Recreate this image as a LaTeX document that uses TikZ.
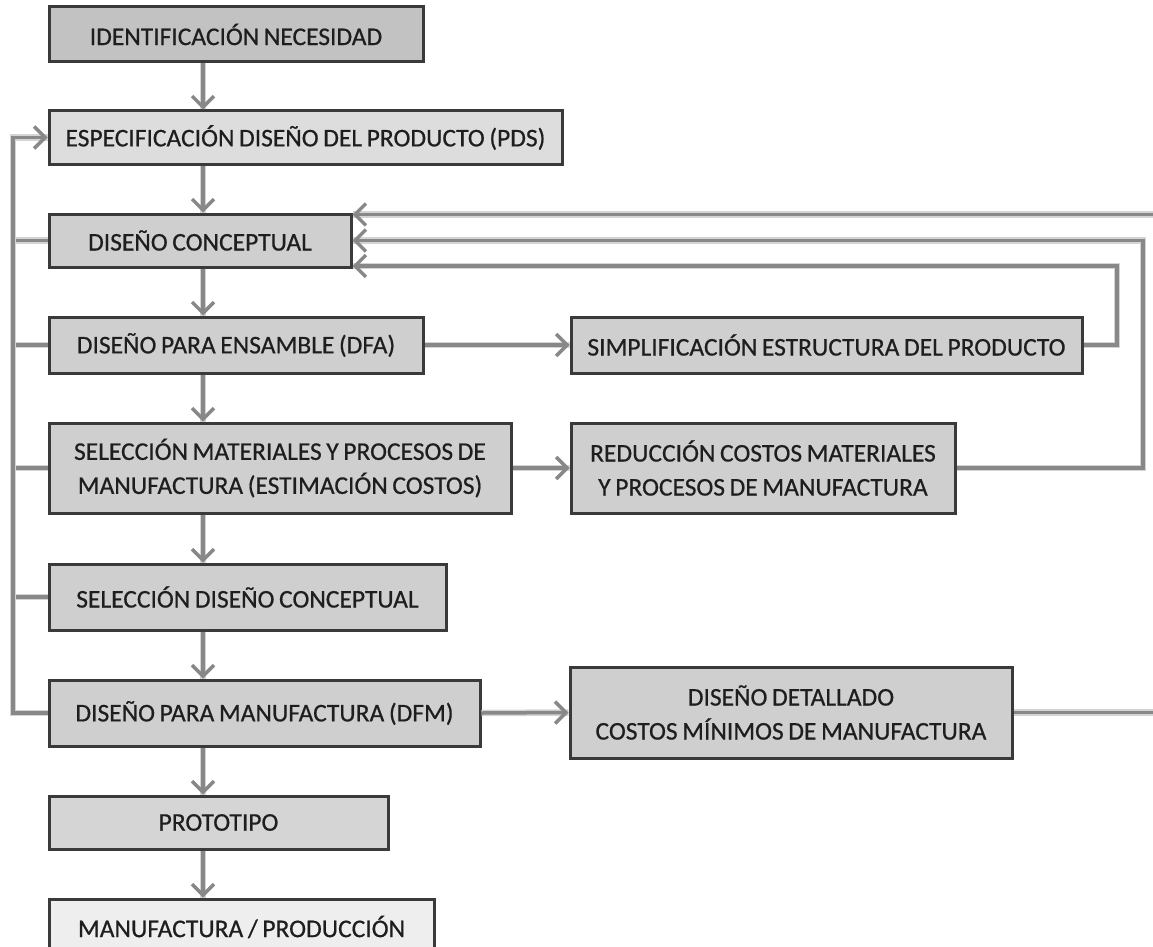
\documentclass[tikz,border=0pt]{standalone}
\usepackage{fontspec}
\setmainfont{Carlito}[FakeBold=0.6,WordSpace=0.8]
\usetikzlibrary{arrows.meta}
\definecolor{edgec}{HTML}{3A3A3A}
\definecolor{txtc}{HTML}{1E1E1E}
\definecolor{arrc}{HTML}{888888}
\definecolor{shadc}{HTML}{D4D4D4}
\definecolor{fdark}{HTML}{C2C2C2}
\definecolor{fmid}{HTML}{CFCFCF}
\definecolor{flight}{HTML}{DDDDDD}
\definecolor{fproto}{HTML}{D5D5D5}
\definecolor{fpale}{HTML}{EEEEEE}
\begin{document}
\begin{tikzpicture}[x=1pt,y=-1pt,
  box/.style={draw=edgec, line width=3pt, inner sep=0pt, text=txtc, align=center,
    font=\fontsize{25.5}{34}\selectfont},
  shad/.style={preaction={draw=shadc, line width=6.5pt, line join=miter, arrows=-}},
  conn/.style={shad, draw=arrc, line width=3.5pt, line join=miter, -{Straight Barb[length=11pt,width=22pt,line width=3.5pt]}},
  link/.style={shad, draw=arrc, line width=3.5pt, line join=miter}
]
\clip (0,0) rectangle (1153,947);
\useasboundingbox (0,0) rectangle (1153,947);
\fill[white] (0,0) rectangle (1153,947);

\coordinate (ax) at (203,0);
\coordinate (l)  at (13,0);
\coordinate (r1) at (1117,0);
\coordinate (r2) at (1143,0);
\coordinate (r3) at (1175,0);

\node[box, fill=fdark,  minimum width=374pt, minimum height=55pt] (n1)  at (236,34.5)  {IDENTIFICACIÓN NECESIDAD};
\node[box, fill=flight, minimum width=513pt, minimum height=53pt] (n2)  at (305.5,137.5) {ESPECIFICACIÓN DISEÑO DEL PRODUCTO (PDS)};
\node[box, fill=fmid,   minimum width=302pt, minimum height=53pt] (n3)  at (200,240.5) {DISEÑO CONCEPTUAL};
\node[box, fill=fmid,   minimum width=374pt, minimum height=56pt] (n4)  at (236,345)   {DISEÑO PARA ENSAMBLE (DFA)};
\node[box, fill=fmid,   minimum width=511pt, minimum height=56pt] (n5)  at (826.5,345) {SIMPLIFICACIÓN ESTRUCTURA DEL PRODUCTO};
\node[box, fill=fmid,   minimum width=462pt, minimum height=90pt] (n6)  at (280,468)   {SELECCIÓN MATERIALES Y PROCESOS DE\\MANUFACTURA (ESTIMACIÓN COSTOS)};
\node[box, fill=fmid,   minimum width=384pt, minimum height=90pt] (n7)  at (763,468)   {REDUCCIÓN COSTOS MATERIALES\\Y PROCESOS DE MANUFACTURA};
\node[box, fill=fmid,   minimum width=397pt, minimum height=66pt] (n8)  at (247.5,597) {SELECCIÓN DISEÑO CONCEPTUAL};
\node[box, fill=fmid,   minimum width=431pt, minimum height=66pt] (n9)  at (264.5,713) {DISEÑO PARA MANUFACTURA (DFM)};
\node[box, fill=fmid,   minimum width=442pt, minimum height=91pt] (n10) at (791,712.5) {DISEÑO DETALLADO\\COSTOS MÍNIMOS DE MANUFACTURA};
\node[box, fill=fproto, minimum width=339pt, minimum height=53pt] (n11) at (218.5,822.5) {PROTOTIPO};
\node[box, fill=fpale,  minimum width=385pt, minimum height=56pt] (n12) at (241.5,927) {MANUFACTURA / PRODUCCIÓN};

\coordinate (t3) at ([yshift=26pt]n3.east);
\coordinate (b3) at ([yshift=-25.5pt]n3.east);

% main vertical flow
\draw[conn] (n1.south -| ax) -- (n2.north -| ax);
\draw[conn] (n2.south -| ax) -- (n3.north -| ax);
\draw[conn] (n3.south -| ax) -- (n4.north -| ax);
\draw[conn] (n4.south -| ax) -- (n6.north -| ax);
\draw[conn] (n6.south -| ax) -- (n8.north -| ax);
\draw[conn] (n8.south -| ax) -- (n9.north -| ax);
\draw[conn] (n9.south -| ax) -- (n11.north -| ax);
\draw[conn] (n11.south -| ax) -- (n12.north -| ax);

% side branches
\draw[conn] (n4.east) -- (n5.west);
\draw[conn] (n6.east) -- (n7.west);
\draw[conn] (n9.east) -- (n10.west);

% right feedback loops
\draw[conn] (n5.east) -| (r1 |- b3) -- (b3);
\draw[conn] (n7.east) -| (r2 |- n3.east) -- (n3.east);
\draw[conn] (n10.east) -| (r3 |- t3) -- (t3);

% left feedback to PDS
\draw[link] (n3.west) -- (l |- n3.west);
\draw[link] (n4.west) -- (l |- n4.west);
\draw[link] (n6.west) -- (l |- n6.west);
\draw[link] (n8.west) -- (l |- n8.west);
\draw[conn] (n9.west) -| (l |- n2.west) -- (n2.west);
\end{tikzpicture}
\end{document}
